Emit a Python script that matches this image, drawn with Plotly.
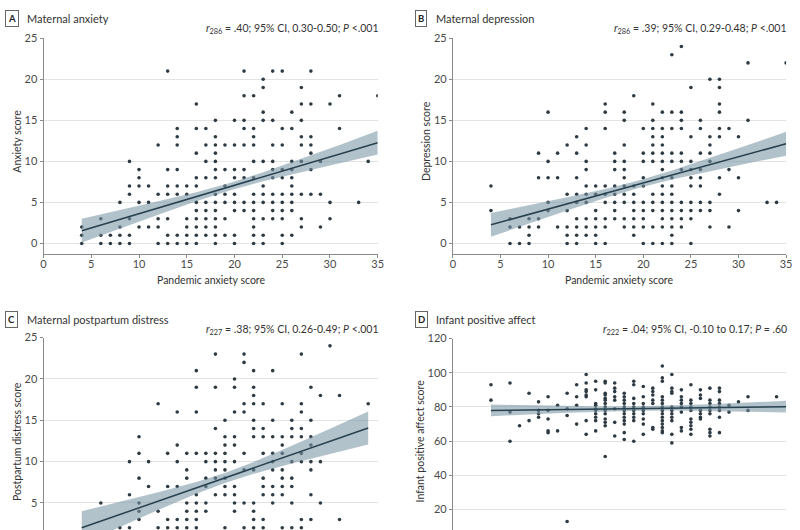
import plotly.graph_objects as go

# ---------------- data ----------------
# Panel A: Maternal anxiety  (anxiety score -> list of pandemic anxiety scores)
anx_rows = {
    21: [13, 21, 24, 25, 28], 20: [23], 19: [23, 27], 18: [21, 22, 31, 35],
    17: [16, 27, 28, 30], 16: [23, 26], 15: [18, 20, 21, 23, 24, 27],
    14: [14, 16, 17, 21, 22, 25, 26, 31], 13: [14, 18, 22, 27, 28],
    12: [12, 14, 17, 18, 19, 20, 21, 22, 24, 25, 27, 28], 11: [16, 18, 28],
    10: [9, 17, 18, 22, 23, 24, 26, 27, 29, 34],
    9: [10, 13, 14, 18, 19, 20, 21, 24, 25, 26, 28],
    8: [10, 16, 17, 18, 20, 21, 22, 24, 25, 26],
    7: [9, 10, 11, 13, 14, 15, 16, 19, 23, 26],
    6: [9, 12, 13, 14, 15, 18, 19, 20, 22, 23, 24, 25, 26, 27, 28, 29],
    5: [8, 10, 11, 16, 17, 18, 19, 20, 21, 22, 23, 24, 25, 26, 30, 33],
    4: [16, 17, 18, 20, 21, 22, 24, 25, 26],
    3: [6, 9, 12, 13, 15, 16, 17, 18, 19, 22, 23, 24, 25, 27, 30],
    2: [4, 8, 10, 11, 12, 15, 16, 17, 18, 22, 27, 29],
    1: [4, 6, 7, 8, 9, 13, 14, 15, 16, 17, 18, 19, 20, 22, 23, 25, 26],
    0: [4, 6, 7, 8, 9, 12, 13, 14, 15, 16, 18, 20, 22, 23, 25],
}
# Panel B: Maternal depression
dep_rows = {
    24: [24], 23: [23], 22: [31, 35], 20: [27, 28], 19: [25, 28], 18: [19],
    17: [16, 21, 28], 16: [10, 16, 18, 22, 23, 24, 28], 15: [18, 21, 24, 26, 31],
    14: [14, 16, 20, 21, 22, 23, 24, 26, 28, 29], 13: [13, 21, 22, 25, 27, 28, 30],
    12: [12, 14, 18, 21, 22, 27], 11: [9, 11, 13, 17, 20, 21, 22, 23, 24, 26, 27],
    10: [10, 14, 17, 18, 20, 21, 22, 23, 24, 25, 27],
    9: [14, 17, 18, 22, 24, 25, 26, 29],
    8: [9, 10, 11, 13, 18, 20, 22, 23, 25, 26, 28, 30],
    7: [4, 14, 15, 16, 17, 18, 19, 20, 22, 23, 25, 26],
    6: [12, 13, 14, 15, 16, 17, 18, 19, 21, 22, 23, 28],
    5: [10, 13, 14, 16, 17, 18, 19, 20, 21, 22, 23, 24, 25, 26, 27, 33, 34],
    4: [4, 10, 12, 15, 17, 19, 20, 21, 22, 23, 24, 25, 26, 27, 30],
    3: [6, 8, 9, 13, 14, 15, 16, 17, 18, 19, 20, 22, 23, 24, 25],
    2: [6, 7, 8, 9, 11, 12, 13, 14, 15, 16, 18, 19, 20, 21, 22, 23, 24, 27, 29],
    1: [8, 12, 13, 14, 15, 19, 23],
    0: [6, 7, 8, 12, 13, 15, 16, 20, 21, 22, 23, 25],
}
# Panel C: Maternal postpartum distress (visible part)
pp_rows = {
    24: [30], 23: [18, 21, 27], 22: [21], 21: [16, 22, 24], 20: [20],
    19: [16, 18, 20, 22, 28], 18: [22, 29, 31], 17: [12, 21, 22, 23, 25, 27, 34],
    16: [14, 16, 20, 21, 27], 15: [19, 22, 24, 26, 28], 14: [18, 22, 23, 26, 27],
    13: [10, 19, 20, 22, 23, 24, 25, 26, 27, 28], 12: [14, 19, 20, 25, 28],
    11: [10, 13, 15, 16, 17, 18, 19, 21, 23, 24, 25, 27],
    10: [9, 11, 14, 17, 18, 19, 20, 24, 26, 27, 28, 29],
    9: [15, 18, 19, 21, 22, 24, 25, 28], 8: [10, 15, 17, 18, 19, 23, 25, 26],
    7: [11, 13, 14, 17, 19, 20, 23, 24, 25, 26],
    6: [9, 16, 18, 19, 20, 23, 24, 25, 28],
    5: [6, 10, 15, 16, 17, 20, 21, 22, 24, 26, 29],
    4: [10, 12, 15, 16, 17, 20, 22],
    3: [10, 13, 14, 15, 16, 22, 23, 27, 28, 31],
    2: [8, 9, 12, 13, 14, 15, 16, 19, 21, 22, 23, 25, 26, 27],
}
# Panel D: Infant positive affect (pandemic anxiety score -> list of affect scores)
inf_cols = {
    4: [93, 84], 6: [94, 77, 60], 7: [69], 8: [88, 72], 9: [83, 78, 76, 74],
    10: [86, 78, 73, 66, 65], 11: [81, 66], 12: [88, 79, 75, 13], 13: [93, 86, 81, 70],
    14: [99, 94, 90, 89, 87, 86, 72, 64],
    15: [95, 90, 82, 81, 79, 78, 76, 74, 72, 66],
    16: [95, 94, 88, 87, 85, 84, 82, 80, 78, 76, 73, 71, 69, 51],
    17: [94, 91, 89, 86, 84, 79, 71, 63],
    18: [88, 86, 84, 82, 80, 78, 76, 74, 72, 70, 65, 61],
    19: [95, 93, 85, 82, 80, 78, 76, 74, 72, 60],
    20: [92, 86, 82, 80, 78, 76, 73, 70, 64],
    21: [91, 89, 87, 84, 82, 68, 67],
    22: [104, 97, 95, 86, 84, 82, 80, 78, 76, 74, 72, 70, 68, 66, 65],
    23: [99, 91, 89, 88, 80, 78, 76, 74, 72, 64, 59],
    24: [90, 86, 84, 82, 80, 77, 68, 66],
    25: [93, 84, 82, 80, 78, 73, 71, 69, 67, 64],
    26: [90, 87, 85, 78, 76, 74, 73],
    27: [91, 84, 82, 80, 78, 76, 67, 65, 63],
    28: [91, 89, 84, 82, 80, 78, 74, 65],
    29: [81, 77], 30: [83], 31: [86, 78], 34: [86],
}

# Fitted lines and 95% CI bands
fit_x = [4, 8, 12, 16, 19.5, 23, 27, 31, 35]
anx_fit = [1.55, 2.93, 4.32, 5.70, 6.91, 8.12, 9.51, 10.89, 12.28]
anx_lo = [0.10, 1.81, 3.51, 5.15, 6.46, 7.57, 8.70, 9.77, 10.83]
anx_hi = [3.00, 4.05, 5.13, 6.25, 7.36, 8.67, 10.32, 12.01, 13.73]
dep_fit = [2.27, 3.54, 4.82, 6.09, 7.21, 8.33, 9.60, 10.88, 12.15]
dep_lo = [0.82, 2.42, 4.01, 5.54, 6.76, 7.78, 8.79, 9.76, 10.70]
dep_hi = [3.72, 4.66, 5.63, 6.64, 7.66, 8.88, 10.41, 12.00, 13.60]
pp_fit_x = [4, 8, 12, 16, 19, 22, 26, 30, 34]
pp_fit = [2.0, 3.61, 5.22, 6.82, 8.03, 9.24, 10.84, 12.45, 14.06]
pp_lo = [0.0, 2.09, 4.15, 6.11, 7.43, 8.53, 9.77, 10.93, 12.06]
pp_hi = [4.0, 5.13, 6.29, 7.53, 8.63, 9.95, 11.91, 13.97, 16.06]
inf_fit = [78.0, 78.28, 78.57, 78.85, 79.1, 79.35, 79.63, 79.92, 80.2]
inf_lo = [74.6, 75.61, 76.57, 77.37, 77.8, 77.87, 77.63, 77.25, 76.8]
inf_hi = [81.4, 80.95, 80.57, 80.33, 80.4, 80.83, 81.63, 82.59, 83.6]

x_ticks = [0, 5, 10, 15, 20, 25, 30, 35]
score_ticks = [0, 5, 10, 15, 20, 25]
affect_ticks = [20, 40, 60, 80, 100, 120]

panel_letters = ["A", "B", "C", "D"]
panel_titles = ["Maternal anxiety", "Maternal depression",
                "Maternal postpartum distress", "Infant positive affect"]
panel_stats = [
    "<i>r</i><sub>286</sub> = .40; 95% CI, 0.30-0.50; <i>P</i> &lt;.001",
    "<i>r</i><sub>286</sub> = .39; 95% CI, 0.29-0.48; <i>P</i> &lt;.001",
    "<i>r</i><sub>227</sub> = .38; 95% CI, 0.26-0.49; <i>P</i> &lt;.001",
    "<i>r</i><sub>222</sub> = .04; 95% CI, -0.10 to 0.17; <i>P</i> = .60",
]
y_titles = ["Anxiety score", "Depression score", "Postpartum distress score",
            "Infant positive affect score"]
x_title = "Pandemic anxiety score"

# ---------------- helpers ----------------
def from_rows(rows):
    xs, ys = [], []
    for yv, xl in rows.items():
        for xv in xl:
            xs.append(xv); ys.append(yv)
    return xs, ys

def from_cols(cols):
    xs, ys = [], []
    for xv, yl in cols.items():
        for yv in yl:
            xs.append(xv); ys.append(yv)
    return xs, ys

W, H = 800, 530
FONT = "Lato, Arial, sans-serif"
DOT = "#2e3a42"
LINE = "#27414f"
BAND = "rgba(120,150,165,0.58)"
GRID = "#e3e3e3"
AXIS = "#8a8a8a"
TXT = "#4a4a4a"

def px(x):
    return x / W

def py(y):
    return 1 - y / H

fig = go.Figure()

panels = [
    (from_rows(anx_rows), fit_x, anx_fit, anx_lo, anx_hi),
    (from_rows(dep_rows), fit_x, dep_fit, dep_lo, dep_hi),
    (from_rows(pp_rows), pp_fit_x, pp_fit, pp_lo, pp_hi),
    (from_cols(inf_cols), fit_x, inf_fit, inf_lo, inf_hi),
]

for i, ((sx, sy), fx, fy, lo, hi) in enumerate(panels):
    ax = "" if i == 0 else str(i + 1)
    xa, ya = "x" + ax, "y" + ax
    fig.add_trace(go.Scatter(x=sx, y=sy, mode="markers", xaxis=xa, yaxis=ya,
                             marker=dict(size=3.6, color=DOT), showlegend=False,
                             hoverinfo="skip"))
    fig.add_trace(go.Scatter(x=list(fx) + list(fx)[::-1], y=list(hi) + list(lo)[::-1],
                             fill="toself", fillcolor=BAND, mode="lines",
                             line=dict(width=0, color=BAND),
                             xaxis=xa, yaxis=ya, showlegend=False, hoverinfo="skip"))
    fig.add_trace(go.Scatter(x=fx, y=fy, mode="lines", xaxis=xa, yaxis=ya,
                             line=dict(color=LINE, width=1.5), showlegend=False,
                             hoverinfo="skip"))

# geometry (pixels)
left_x = (41, 379)
right_x = (455, 792)
top_y = (31.7, 250)      # A, B plot area
c_y = (335, 530)
d_y = (336, 530)

xdom_l = [px(left_x[0]), px(left_x[1])]
xdom_r = [px(right_x[0]), px(right_x[1])]

common_x = dict(range=[0, 35], tickvals=x_ticks, showgrid=False, zeroline=False,
                showline=True, linecolor=AXIS, linewidth=1, ticks="outside",
                ticklen=3, tickcolor=AXIS, ticklabelstandoff=-3,
                tickfont=dict(family=FONT, size=11, color=TXT))
common_y = dict(showgrid=True, gridcolor=GRID, gridwidth=1, zeroline=False,
                showline=True, linecolor=AXIS, linewidth=1, ticks="outside",
                ticklen=3, tickcolor=AXIS, tickfont=dict(family=FONT, size=11, color=TXT))

fig.update_layout(
    width=W, height=H, margin=dict(l=0, r=0, t=0, b=0),
    paper_bgcolor="white", plot_bgcolor="white",
    font=dict(family=FONT, color=TXT),
    xaxis=dict(domain=xdom_l, anchor="y", **common_x),
    yaxis=dict(domain=[py(top_y[1]), py(top_y[0])], anchor="x",
               range=[-1.25, 25], tickvals=score_ticks, **common_y),
    xaxis2=dict(domain=xdom_r, anchor="y2", **common_x),
    yaxis2=dict(domain=[py(top_y[1]), py(top_y[0])], anchor="x2",
                range=[-1.25, 25], tickvals=score_ticks, **common_y),
    xaxis3=dict(domain=xdom_l, anchor="y3", range=[0, 35], showline=False,
                showticklabels=False, showgrid=False, zeroline=False),
    yaxis3=dict(domain=[0, py(c_y[0])], anchor="x3",
                range=[(544.5 - 530) / 8.37, 25], tickvals=score_ticks, **common_y),
    xaxis4=dict(domain=xdom_r, anchor="y4", range=[0, 35], showline=False,
                showticklabels=False, showgrid=False, zeroline=False),
    yaxis4=dict(domain=[0, py(d_y[0])], anchor="x4",
                range=[(544 - 530) / 1.735, 120], tickvals=affect_ticks, **common_y),
)

ann = []
# panel header positions: (letter box center x, y), title start x, stats right x, stats y
headers = [(9, 11.5, 22, 382, 22), (423, 11.5, 436, 795, 22),
           (9, 316.5, 22, 382, 327), (423, 316.5, 436, 795, 327)]
for i, (lx, ly, tx, sx_, sy_) in enumerate(headers):
    ann.append(dict(x=px(lx), y=py(ly), xref="paper", yref="paper",
                    text="<b>" + panel_letters[i] + "</b>", showarrow=False,
                    font=dict(family=FONT, size=9.5, color="#222"),
                    bordercolor="#666", borderwidth=1, borderpad=2,
                    xanchor="center", yanchor="middle"))
    ann.append(dict(x=px(tx), y=py(ly), xref="paper", yref="paper",
                    text=panel_titles[i], showarrow=False,
                    font=dict(family=FONT, size=11, color="#333"),
                    xanchor="left", yanchor="middle"))
    ann.append(dict(x=px(sx_), y=py(sy_), xref="paper", yref="paper",
                    text=panel_stats[i], showarrow=False,
                    font=dict(family=FONT, size=10.5, color="#333"),
                    xanchor="right", yanchor="middle"))

# axis titles
ytitle_pos = [(14, 135.6), (428, 135.6), (14, 440), (422, 440)]
for i, (x0, y0) in enumerate(ytitle_pos):
    ann.append(dict(x=px(x0), y=py(y0), xref="paper", yref="paper",
                    text=y_titles[i], textangle=-90, showarrow=False,
                    font=dict(family=FONT, size=10.5, color="#333"),
                    xanchor="center", yanchor="middle"))
for cx in [(left_x[0] + left_x[1]) / 2, (right_x[0] + right_x[1]) / 2]:
    ann.append(dict(x=px(cx), y=py(277), xref="paper", yref="paper",
                    text=x_title, showarrow=False,
                    font=dict(family=FONT, size=10.5, color="#333"),
                    xanchor="center", yanchor="middle"))

fig.update_layout(annotations=ann)
fig.write_html("out.html")
